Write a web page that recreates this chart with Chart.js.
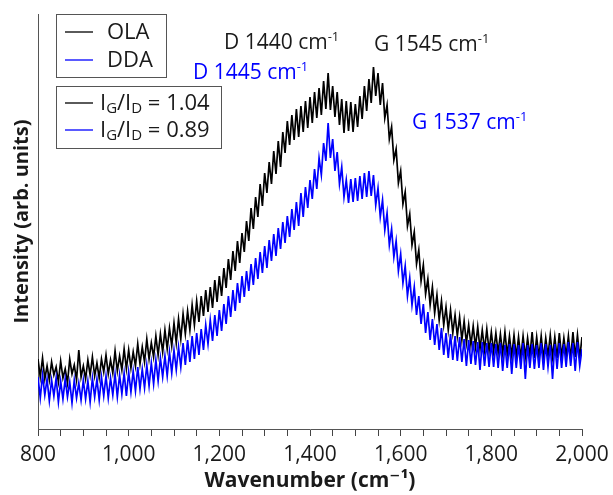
<!DOCTYPE html>
<html><head><meta charset="utf-8">
<script src="https://cdn.jsdelivr.net/npm/chart.js@4/dist/chart.umd.min.js"></script>
<style>html,body{margin:0;padding:0;background:#fff;}#wrap{width:613px;height:495px;position:relative;}</style>
</head><body><div id="wrap"><canvas id="c" width="613" height="495"></canvas></div>
<script>
// ---- data ----
const wavenumberStart = 800;   // cm^-1, first sample
const wavenumberStep = 5;      // cm^-1 between samples
const seriesNames = ['OLA', 'DDA'];
const seriesColors = ['#000000', '#0000ff'];
const ratioValues = ['1.04', '0.89'];
const peakLabels = ['D 1440', 'G 1545', 'D 1445', 'G 1537'];
const majorTicks = [800, 1000, 1200, 1400, 1600, 1800, 2000];

const olaIntensity = [
70,52,71,50,63,49,67,54,62,47,
68,51,60,46,70,55,64,49,79,52,
63,50,69,54,72,53,66,51,70,57,
74,55,69,56,78,58,73,59,80,60,
79,61,77,63,85,65,82,67,90,70,
86,72,93,74,95,77,99,80,101,83,
106,86,110,90,115,95,118,99,124,104,
128,107,133,113,139,117,142,121,149,127,
153,133,161,141,170,149,178,158,188,166,
196,177,208,188,221,200,232,212,245,223,
256,236,267,245,278,255,288,262,297,276,
308,284,314,289,320,292,323,297,328,301,
332,306,337,311,341,314,348,320,356,319,
343,312,337,304,330,296,328,298,327,297,
325,302,333,310,343,318,350,326,362,333,
356,324,346,311,324,290,302,269,280,246,
258,225,237,203,215,184,197,165,179,148,
164,135,150,124,142,116,134,109,128,104,
122,99,119,96,114,93,112,89,108,86,
104,84,103,82,102,80,99,79,100,78,
97,77,96,76,95,75,97,74,93,73,
94,72,92,71,93,72,91,73,97,71,
92,72,93,70,91,73,94,72,92,71,
96,72,91,73,93,70,97,72,94,71,
92];

const ddaIntensity = [
52,31,54,34,50,28,49,33,51,27,
48,30,50,32,47,26,49,31,46,29,
49,30,48,27,51,32,50,29,52,33,
53,31,51,34,55,32,54,35,56,33,
57,37,58,38,62,40,60,41,64,43,
66,45,69,48,71,52,73,53,77,56,
79,59,82,62,86,64,89,67,93,70,
96,74,100,79,104,85,109,88,114,93,
119,98,125,105,133,112,139,118,146,126,
153,132,158,138,165,144,171,150,177,156,
183,161,189,168,195,173,201,180,207,186,
213,192,220,199,227,203,236,212,242,221,
249,230,260,240,271,254,286,268,306,271,
290,258,277,245,262,232,249,226,250,227,
251,228,253,230,256,232,258,233,254,224,
241,212,229,199,216,184,200,172,188,158,
175,146,163,133,151,124,142,114,133,105,
125,96,117,89,110,84,105,79,101,74,
96,71,95,69,93,68,92,67,90,63,
89,65,88,64,87,59,87,63,86,62,
86,62,85,61,86,58,84,61,85,55,
85,61,84,60,86,50,84,61,85,60,
84,61,86,59,85,62,84,50,85,60,
86,61,85,62,87,63,86,58,87,63,
80];

// ---- build points ----
function toPoints(arr){ return arr.map((v,i)=>({x: wavenumberStart + i*wavenumberStep, y: v})); }

const FONT = '"Open Sans", "DejaVu Sans", sans-serif';
const TEXT_DARK = '#1a1a1a';

function drawRuns(ctx, runs, x, y, color){
  ctx.fillStyle = color;
  ctx.textBaseline = 'alphabetic';
  ctx.textAlign = 'left';
  let cx = x;
  for (const [t, size, dy] of runs){
    ctx.font = size + 'px ' + FONT;
    ctx.fillText(t, cx, y + dy);
    cx += ctx.measureText(t).width;
  }
  return cx;
}

const overlayPlugin = {
  id: 'overlay',
  afterDraw(chart, args, opts){
    const ctx = chart.ctx;
    ctx.save();
    opts.peaks.forEach((p, i) => {
      const color = p.series === 0 ? TEXT_DARK : seriesColors[1];
      drawRuns(ctx, [[peakLabels[i] + ' cm', opts.fontSize, 0], ['-1', opts.supSize, -opts.supRaise]], p.x, p.y, color);
    });
    const b1 = opts.box1, b2 = opts.box2;
    ctx.strokeStyle = '#555'; ctx.lineWidth = 1;
    ctx.strokeRect(b1.x + 0.5, b1.y + 0.5, b1.w, b1.h);
    ctx.strokeRect(b2.x + 0.5, b2.y + 0.5, b2.w, b2.h);
    seriesNames.forEach((name, i) => {
      const ly = b1.y + b1.rows[i];
      ctx.strokeStyle = seriesColors[i]; ctx.lineWidth = 1.3;
      ctx.beginPath(); ctx.moveTo(b1.x + 9, ly); ctx.lineTo(b1.x + 37, ly); ctx.stroke();
      drawRuns(ctx, [[name, opts.legendSize, 0]], b1.x + 51, ly + 7, TEXT_DARK);
    });
    ratioValues.forEach((val, i) => {
      const ly = b2.y + b2.rows[i];
      ctx.strokeStyle = seriesColors[i]; ctx.lineWidth = 1.3;
      ctx.beginPath(); ctx.moveTo(b2.x + 9, ly); ctx.lineTo(b2.x + 37, ly); ctx.stroke();
      drawRuns(ctx, [['I', opts.legendSize, 0], ['G', opts.subSize, 3], ['/I', opts.legendSize, 0], ['D', opts.subSize, 3], [' = ' + val, opts.legendSize, 0]], b2.x + 44, ly + 7, TEXT_DARK);
    });
    ctx.restore();
  }
};

new Chart(document.getElementById('c'), {
  type: 'line',
  data: {
    datasets: [
      { label: seriesNames[0], data: toPoints(olaIntensity), borderColor: seriesColors[0], borderWidth: 1.7, pointRadius: 0, tension: 0, order: 2 },
      { label: seriesNames[1], data: toPoints(ddaIntensity), borderColor: seriesColors[1], borderWidth: 1.7, pointRadius: 0, tension: 0, order: 1 }
    ]
  },
  options: {
    responsive: false,
    animation: false,
    devicePixelRatio: 1,
    layout: { padding: { left: 10, top: 14, right: 31, bottom: 0 } },
    plugins: {
      legend: { display: false },
      tooltip: { enabled: false },
      overlay: {
        fontSize: 21, legendSize: 22, supSize: 13, supRaise: 8, subSize: 15,
        peaks: [
          { series: 0, x: 224, y: 49 },
          { series: 0, x: 374, y: 51 },
          { series: 1, x: 193, y: 79 },
          { series: 1, x: 412, y: 129 }
        ],
        box1: { x: 56, y: 14, w: 110, h: 63, rows: [18, 46] },
        box2: { x: 56, y: 86, w: 165, h: 62, rows: [17, 44] }
      }
    },
    scales: {
      x: {
        type: 'linear', min: 800, max: 2000,
        afterFit: (s) => { s.height = 66; s.paddingLeft = 0; s.paddingRight = 0; },
        ticks: {
          stepSize: 50, autoSkip: false, maxRotation: 0, padding: 6,
          color: TEXT_DARK, font: { family: FONT, size: 21 },
          callback: (v) => majorTicks.includes(v) ? v.toLocaleString('en-US') : ''
        },
        grid: { display: true, drawOnChartArea: false, drawTicks: true, tickLength: 7, color: '#444', tickWidth: 1 },
        border: { display: true, color: '#555', width: 1 },
        title: { display: true, text: 'Wavenumber (cm⁻¹)', color: TEXT_DARK, font: { family: FONT, size: 21, weight: 'bold' }, padding: { top: 0, bottom: 1 } }
      },
      y: {
        min: 0, max: 415,
        afterFit: (s) => { s.width = 28; },
        ticks: { display: false },
        grid: { display: true, drawOnChartArea: false, drawTicks: false },
        border: { display: true, color: '#555', width: 1 },
        title: { display: true, text: 'Intensity (arb. units)', color: TEXT_DARK, font: { family: FONT, size: 20, weight: 'bold' }, padding: { top: 0, bottom: 4 } }
      }
    }
  },
  plugins: [overlayPlugin]
});
</script>
</body></html>
